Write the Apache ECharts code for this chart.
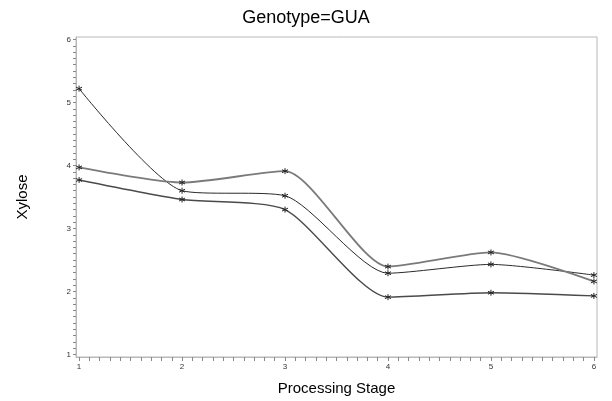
<!DOCTYPE html>
<html>
<head>
<meta charset="utf-8">
<script src="https://cdn.jsdelivr.net/npm/echarts@6/dist/echarts.min.js"></script>
<style>
  html, body { margin: 0; padding: 0; background: #fff; }
  #chart { width: 612px; height: 401px; }
</style>
</head>
<body>
<div id="chart"></div>
<script>
// Processing stages on the x axis
const stages = [1, 2, 3, 4, 5, 6];
// Xylose measurements per stage, one array per curve
const xyloseA = [5.22, 3.60, 3.52, 2.29, 2.43, 2.26];
const xyloseB = [3.97, 3.73, 3.91, 2.395, 2.62, 2.16];
const xyloseC = [3.77, 3.46, 3.30, 1.91, 1.98, 1.93];
// Labelled tick values
const xTickLabels = [1, 2, 3, 4, 5, 6];
const yTickLabels = [1, 2, 3, 4, 5, 6];

// fine ticks every 0.1 between the labelled ones
function fineTicks(lo, hi) {
  const out = [];
  for (let i = Math.round(lo * 10); i <= Math.round(hi * 10); i++) out.push(i / 10);
  return out;
}

const asterisk = 'path://M0,-5L0,5M-4.33,-2.5L4.33,2.5M-4.33,2.5L4.33,-2.5';

function curve(values, color, width) {
  return {
    type: 'line',
    data: stages.map((s, i) => [s, values[i]]),
    smooth: 0.22,
    symbol: asterisk,
    symbolSize: 6,
    itemStyle: { color: 'transparent', borderColor: '#222', borderWidth: 1 },
    lineStyle: { color: color, width: width },
    emphasis: { disabled: true },
    z: 3
  };
}

const fontFamily = 'Liberation Sans, Arial, sans-serif';
const axisFont = { fontFamily: fontFamily, fontSize: 8, color: '#333' };

const chart = echarts.init(document.getElementById('chart'), null, { renderer: 'canvas' });
chart.setOption({
  animation: false,
  backgroundColor: '#fff',
  title: {
    text: 'Genotype=GUA',
    left: 'center',
    top: 4,
    textStyle: { fontFamily: fontFamily, fontSize: 18, fontWeight: 'normal', color: '#000' }
  },
  grid: {
    left: 76, right: 15, top: 37, bottom: 43,
    show: true, borderColor: '#b8b8b8', borderWidth: 1, backgroundColor: 'transparent'
  },
  xAxis: {
    type: 'value',
    min: 0.97, max: 6.03,
    name: 'Processing Stage',
    nameLocation: 'middle',
    nameGap: 24,
    nameTextStyle: { fontFamily: fontFamily, fontSize: 15, color: '#000' },
    axisLine: { show: true, lineStyle: { color: '#b8b8b8' } },
    axisTick: { show: true, customValues: fineTicks(1, 6), length: 4, lineStyle: { color: '#888' } },
    axisLabel: { customValues: xTickLabels, margin: 6, ...axisFont },
    splitLine: { show: false }
  },
  yAxis: {
    type: 'value',
    min: 0.96, max: 6.04,
    name: 'Xylose',
    nameLocation: 'middle',
    nameRotate: 90,
    nameGap: 46,
    nameTextStyle: { fontFamily: fontFamily, fontSize: 15, color: '#000' },
    axisLine: { show: true, lineStyle: { color: '#b8b8b8' } },
    axisTick: { show: true, customValues: fineTicks(1, 6), length: 3, lineStyle: { color: '#888' } },
    axisLabel: { customValues: yTickLabels, margin: 5, ...axisFont },
    splitLine: { show: false }
  },
  series: [
    curve(xyloseA, '#2a2a2a', 1),
    curve(xyloseB, '#7a7a7a', 1.8),
    curve(xyloseC, '#4a4a4a', 1.4)
  ]
});
</script>
</body>
</html>
